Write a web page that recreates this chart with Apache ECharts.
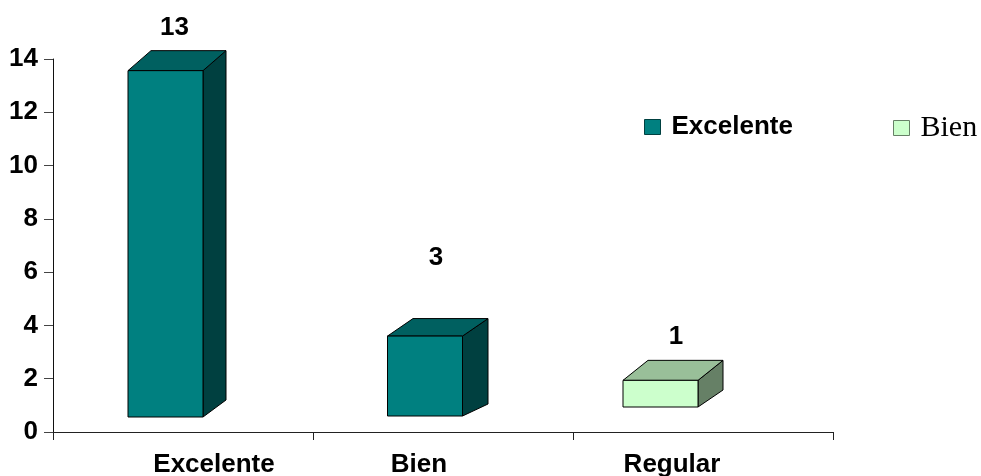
<!DOCTYPE html>
<html>
<head>
<meta charset="utf-8">
<style>html,body{margin:0;padding:0;background:#fff}#chart{width:981px;height:476px}</style>
<script src="https://cdn.jsdelivr.net/npm/echarts@6/dist/echarts.min.js"></script>
</head>
<body>
<div id="chart"></div>
<script>
// Ratings tally drawn as extruded columns
const categories = ['Excelente', 'Bien', 'Regular'];
const excelenteValues = [13, 3];
const bienValues = [1];
const bienCategoryIndex = 2;
const yTicks = { min: 0, max: 14, interval: 2 };

const FONT = '"Liberation Sans", Arial, sans-serif';
const SERIF = '"Liberation Serif", "Times New Roman", serif';
const LABEL_SIZE = 26;

// Per-column offsets from the category centre and axis baseline, in pixels
const columnLayout = [
  { shift: -17.5, lift: 15, depth: 23, riseTop: 20, riseBase: 17, labelDx: 9, labelGap: 23 },
  { shift: -18, lift: 16, depth: 25.5, riseTop: 17.5, riseBase: 12, labelDx: 11, labelGap: 61 },
  { shift: -42.5, lift: 25, depth: 25, riseTop: 20, riseBase: 17, labelDx: 15.5, labelGap: 24 }
];
const COLUMN_WIDTH = 75;

function renderColumn(faces) {
  return function (params, api) {
    const index = api.value(0);
    const value = api.value(1);
    const layout = columnLayout[index];
    const origin = api.coord([index, 0]);
    const height = api.size([0, value])[1];
    const left = origin[0] + layout.shift - COLUMN_WIDTH / 2;
    const right = left + COLUMN_WIDTH;
    const bottom = origin[1] - layout.lift;
    const top = bottom - height;
    const edge = { stroke: '#000', lineWidth: 1 };
    const poly = (points, fill) => ({
      type: 'polygon',
      shape: { points },
      style: Object.assign({ fill }, edge)
    });
    return {
      type: 'group',
      children: [
        poly([[right, top], [right + layout.depth, top - layout.riseTop],
              [right + layout.depth, bottom - layout.riseBase], [right, bottom]], faces.side),
        poly([[left, top], [left + layout.depth, top - layout.riseTop],
              [right + layout.depth, top - layout.riseTop], [right, top]], faces.top),
        poly([[left, top], [right, top], [right, bottom], [left, bottom]], faces.front),
        {
          type: 'text',
          style: {
            text: String(value),
            x: (left + right) / 2 + layout.labelDx,
            y: top - layout.riseTop - layout.labelGap,
            align: 'center',
            verticalAlign: 'middle',
            fill: '#000',
            font: 'bold ' + LABEL_SIZE + 'px ' + FONT
          }
        }
      ]
    };
  };
}

const tealFaces = { front: '#008080', top: '#006060', side: '#004040' };
const mintFaces = { front: '#CCFFCC', top: '#99BF99', side: '#668066' };

const chart = echarts.init(document.getElementById('chart'), null, { renderer: 'canvas' });
chart.setOption({
  animation: false,
  backgroundColor: '#fff',
  grid: { left: 53, top: 59, width: 780, height: 373, containLabel: false, outerBoundsMode: 'none' },
  legend: [
    {
      data: ['Excelente'],
      icon: 'rect',
      left: 644, top: 114,
      padding: 0,
      selectedMode: false,
      itemWidth: 16, itemHeight: 15,
      itemStyle: { borderColor: '#004040', borderWidth: 1 },
      textStyle: { fontFamily: FONT, fontWeight: 'bold', fontSize: LABEL_SIZE, color: '#000', padding: [0, 0, 0, 6] }
    },
    {
      data: ['Bien'],
      icon: 'rect',
      left: 893, top: 113,
      padding: 0,
      selectedMode: false,
      itemWidth: 16, itemHeight: 15,
      itemStyle: { borderColor: '#668066', borderWidth: 1 },
      textStyle: { fontFamily: SERIF, fontSize: 30, color: '#000', padding: [5, 0, 0, 6] }
    }
  ],
  xAxis: {
    type: 'category',
    data: categories,
    axisLine: { lineStyle: { color: '#222', width: 1 } },
    axisTick: { show: true, alignWithLabel: false, length: 8, lineStyle: { color: '#222' } },
    axisLabel: {
      margin: 20,
      formatter: (name, i) => '{c' + i + '|' + name + '}',
      // Category names sit off their band centres
      rich: {
        c0: { fontFamily: FONT, fontWeight: 'bold', fontSize: LABEL_SIZE, color: '#000', padding: [0, 0, 0, 62] },
        c1: { fontFamily: FONT, fontWeight: 'bold', fontSize: LABEL_SIZE, color: '#000', padding: [0, 48, 0, 0] },
        c2: { fontFamily: FONT, fontWeight: 'bold', fontSize: LABEL_SIZE, color: '#000', padding: [0, 62, 0, 0] }
      }
    }
  },
  yAxis: {
    type: 'value',
    min: yTicks.min, max: yTicks.max, interval: yTicks.interval,
    splitLine: { show: false },
    axisLine: { show: true, lineStyle: { color: '#111', width: 1 } },
    axisTick: { show: true, length: 9, lineStyle: { color: '#444' } },
    axisLabel: { margin: 15, fontFamily: FONT, fontWeight: 'bold', fontSize: LABEL_SIZE, color: '#000' }
  },
  series: [
    {
      name: 'Excelente',
      type: 'custom',
      itemStyle: { color: tealFaces.front },
      encode: { x: 0, y: 1 },
      data: excelenteValues.map((v, i) => [i, v]),
      renderItem: renderColumn(tealFaces)
    },
    {
      name: 'Bien',
      type: 'custom',
      itemStyle: { color: mintFaces.front },
      encode: { x: 0, y: 1 },
      data: bienValues.map(v => [bienCategoryIndex, v]),
      renderItem: renderColumn(mintFaces)
    }
  ]
});
</script>
</body>
</html>
